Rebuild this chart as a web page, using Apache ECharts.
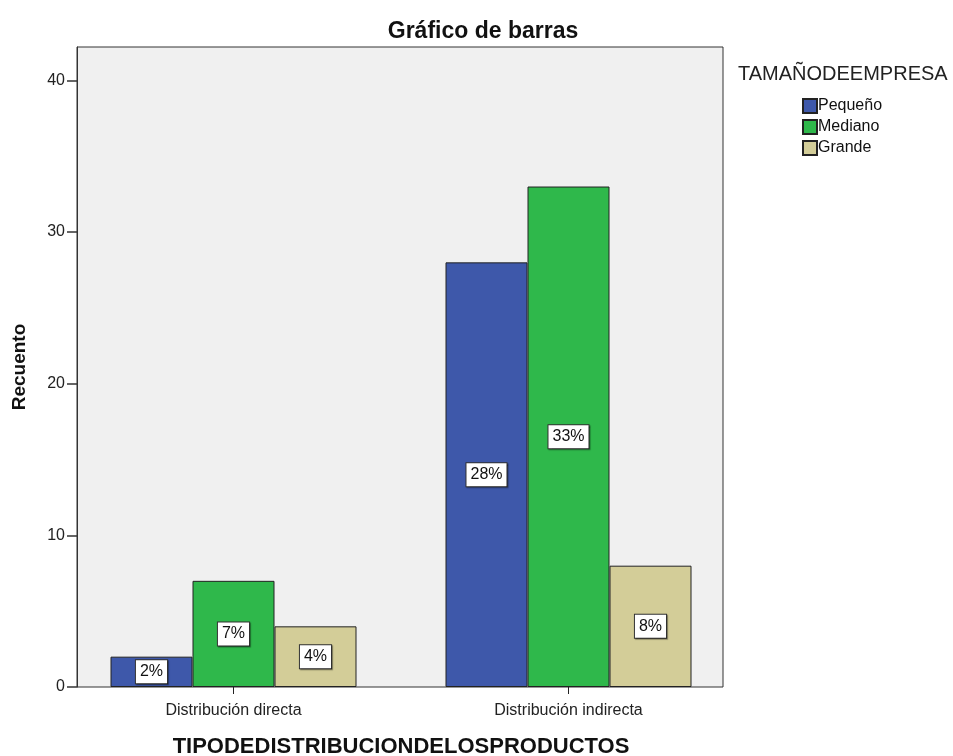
<!DOCTYPE html>
<html>
<head>
<meta charset="utf-8">
<script src="https://cdn.jsdelivr.net/npm/echarts@6/dist/echarts.min.js"></script>
<style>
  html, body { margin: 0; padding: 0; background: #fff; }
  #chart { width: 953px; height: 756px; }
</style>
</head>
<body>
<div id="chart"></div>
<script>
const categories = ['Distribución directa', 'Distribución indirecta'];
const seriesNames = ['Pequeño', 'Mediano', 'Grande'];
const pequeno = [2, 28];
const mediano = [7, 33];
const grande = [4, 8];
const yTicks = [0, 10, 20, 30, 40];

const colors = ['#3e58aa', '#2fb84b', '#d3cd98'];
const font = 'Arial, "Liberation Sans", sans-serif';

const chart = echarts.init(document.getElementById('chart'));

// caja blanca con borde para los porcentajes
const labelStyle = {
  show: true,
  position: 'inside',
  formatter: '{c}%',
  color: '#111',
  fontSize: 16,
  fontFamily: font,
  backgroundColor: '#fff',
  borderColor: '#333',
  borderWidth: 1,
  padding: [4, 4, 3, 4],
  shadowColor: 'rgba(0,0,0,0.35)',
  shadowOffsetX: 1,
  shadowOffsetY: 1,
  shadowBlur: 1
};

function makeSeries(name, data, i) {
  return {
    name: name,
    type: 'bar',
    xAxisIndex: 1,
    yAxisIndex: 1,
    data: data,
    barWidth: 82,
    barGap: '0%',
    itemStyle: { color: colors[i], borderColor: '#222', borderWidth: 1 },
    label: labelStyle
  };
}

chart.setOption({
  animation: false,
  color: colors,
  textStyle: { fontFamily: font },
  title: [
    {
      text: 'Gráfico de barras',
      left: 478,
      top: 15,
      textAlign: 'center',
      textStyle: { fontSize: 23, fontWeight: 'bold', color: '#111', fontFamily: font }
    },
    {
      text: 'TAMAÑODEEMPRESA',
      left: 733,
      top: 59,
      textStyle: { fontSize: 20, fontWeight: 'normal', color: '#222', fontFamily: font }
    }
  ],
  legend: {
    data: seriesNames,
    orient: 'vertical',
    left: 797,
    top: 93,
    itemWidth: 14,
    itemHeight: 14,
    itemGap: 5,
    icon: 'rect',
    textStyle: { fontSize: 16, lineHeight: 16, color: '#111', padding: [0, 0, 0, -4] }
  },
  grid: [
    {
      left: 77, right: 230, top: 47, bottom: 69,
      outerBoundsMode: 'none',
      show: true, backgroundColor: '#f0f0f0', borderColor: '#333', borderWidth: 1
    },
    { left: 66, right: 217, top: 47, bottom: 69, outerBoundsMode: 'none' }
  ],
  xAxis: [
    { gridIndex: 0, type: 'value', min: 0, max: 1, show: false },
    {
      gridIndex: 1,
      type: 'category',
      data: categories,
      axisLine: { show: false },
      axisTick: { show: true, alignWithLabel: true, length: 7, lineStyle: { color: '#222' } },
      axisLabel: { fontSize: 16, color: '#222', margin: 16 },
      name: 'TIPODEDISTRIBUCIONDELOSPRODUCTOS',
      nameLocation: 'middle',
      nameGap: 49,
      nameTextStyle: { fontSize: 22, fontWeight: 'bold', color: '#111' }
    }
  ],
  yAxis: [
    {
      gridIndex: 0,
      type: 'value',
      min: yTicks[0],
      max: 42.2,
      interval: 10,
      axisLine: { show: true, lineStyle: { color: '#333' } },
      axisTick: { show: true, length: 10, customValues: yTicks, lineStyle: { color: '#333', width: 1.5 } },
      axisLabel: { fontSize: 16, color: '#222', margin: 12, customValues: yTicks },
      splitLine: { show: false },
      name: 'Recuento',
      nameLocation: 'middle',
      nameGap: 48,
      nameTextStyle: { fontSize: 19, fontWeight: 'bold', color: '#111' }
    },
    { gridIndex: 1, type: 'value', min: 0, max: 42.2, show: false }
  ],
  series: [
    makeSeries(seriesNames[0], pequeno, 0),
    makeSeries(seriesNames[1], mediano, 1),
    makeSeries(seriesNames[2], grande, 2)
  ]
});
</script>
</body>
</html>
